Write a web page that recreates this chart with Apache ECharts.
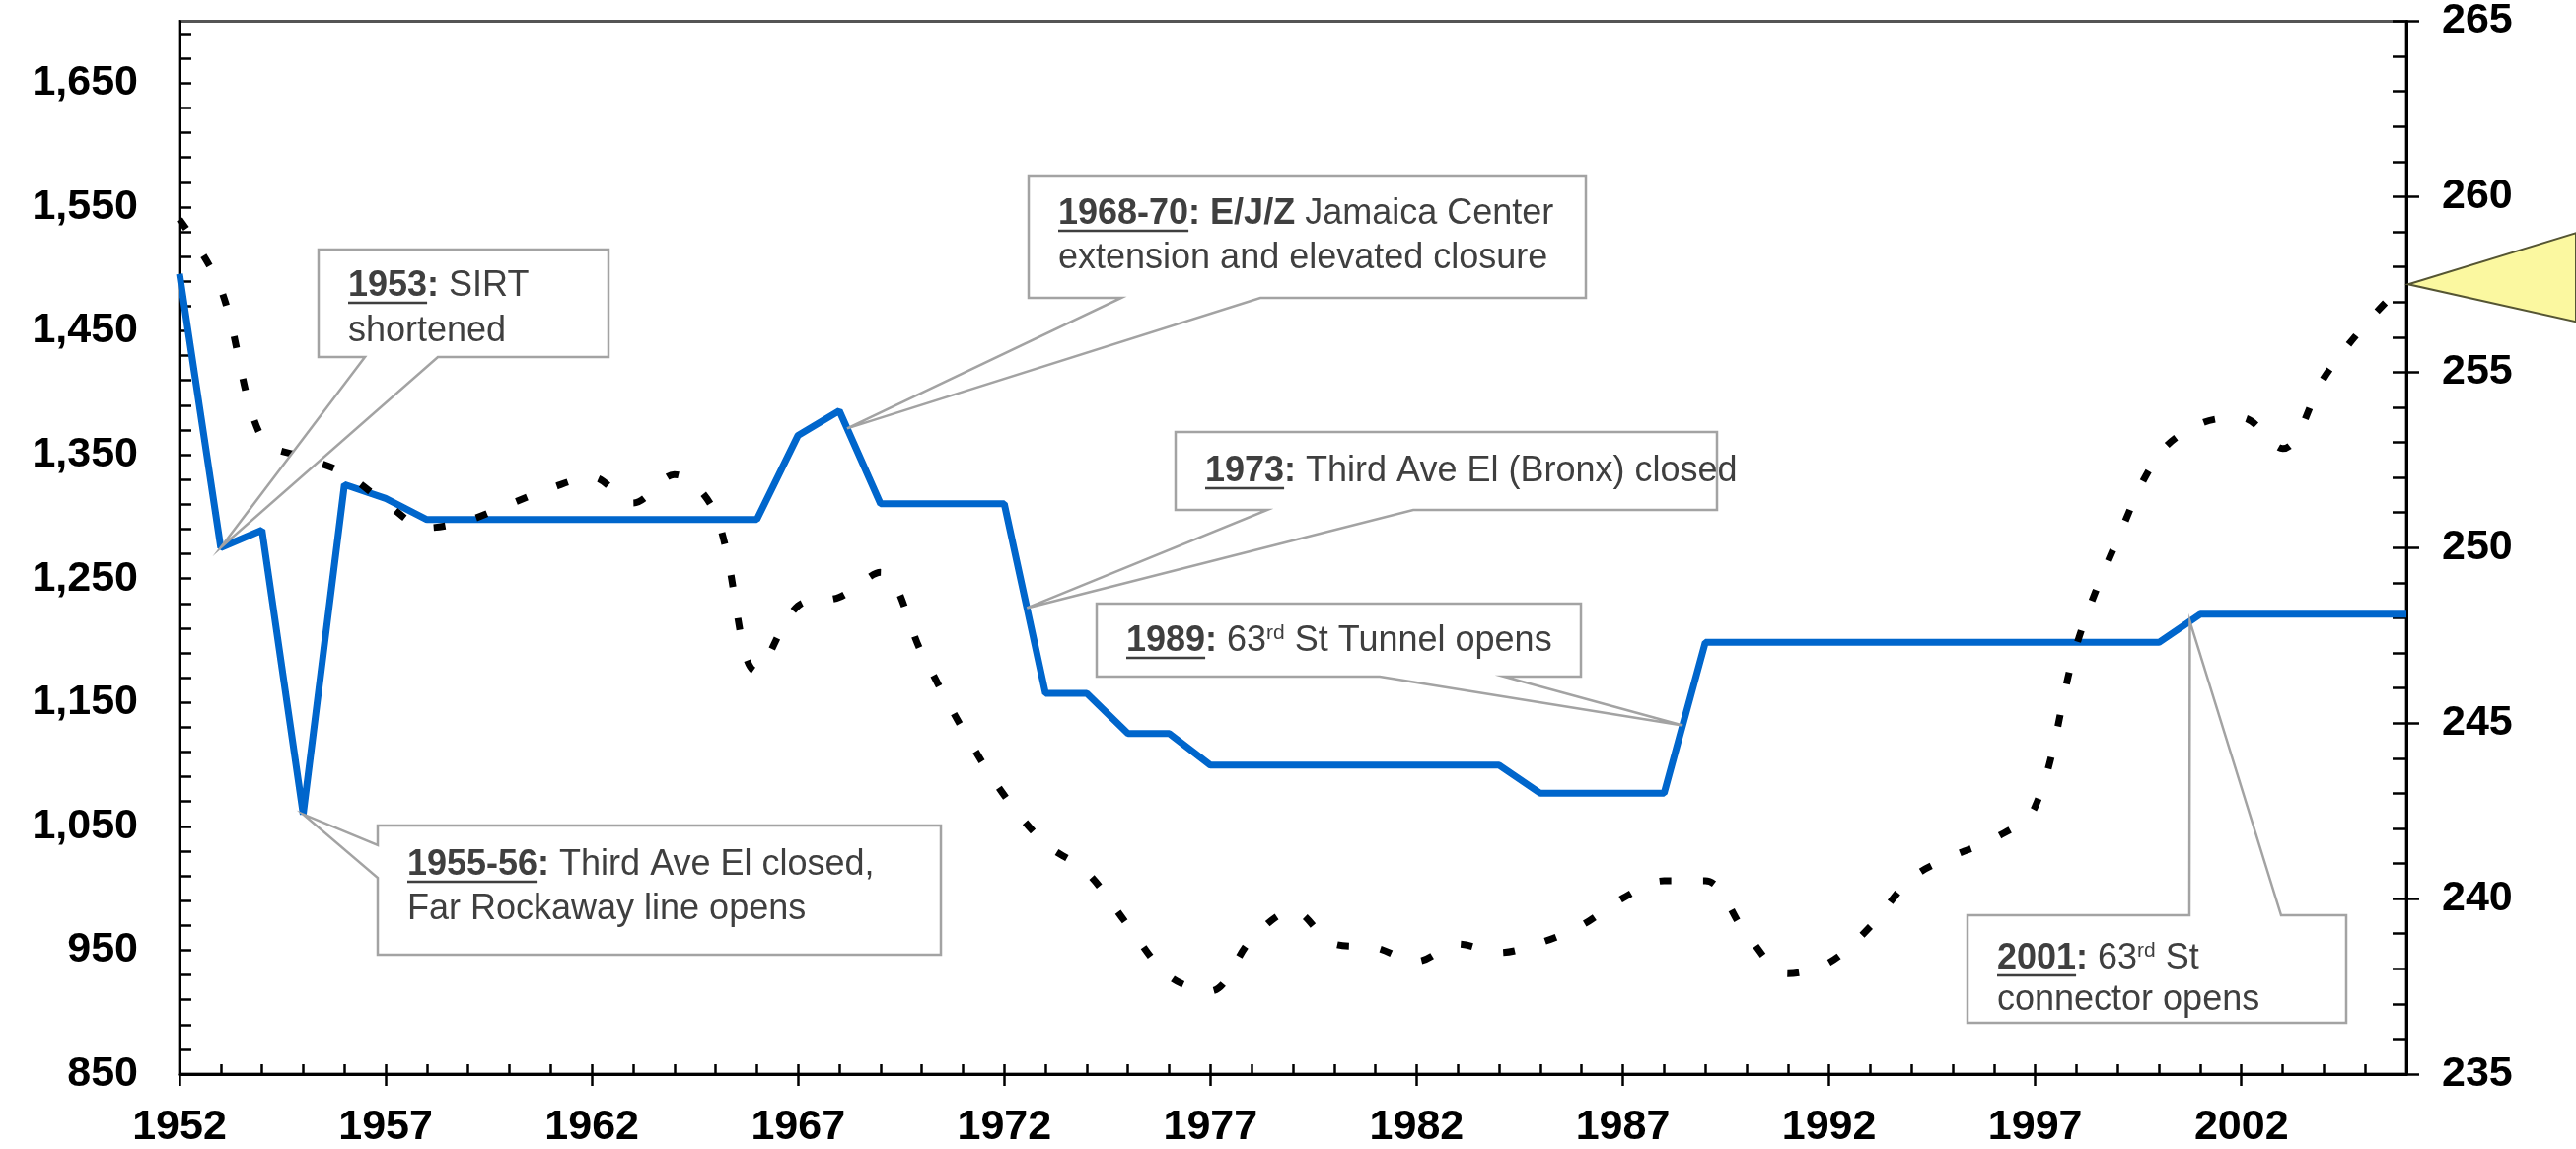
<!DOCTYPE html>
<html>
<head>
<meta charset="utf-8">
<title>Subway ridership and route miles</title>
<script src="https://cdn.jsdelivr.net/npm/echarts@6/dist/echarts.min.js"></script>
<style>
  html, body { margin: 0; padding: 0; background: #fff; }
  #chart { width: 2612px; height: 1165px; }
</style>
</head>
<body>
<div id="chart"></div>
<script>
// years on the x axis
const years = [1952, 1953, 1954, 1955, 1956, 1957, 1958, 1959, 1960, 1961,
  1962, 1963, 1964, 1965, 1966, 1967, 1968, 1969, 1970, 1971,
  1972, 1973, 1974, 1975, 1976, 1977, 1978, 1979, 1980, 1981,
  1982, 1983, 1984, 1985, 1986, 1987, 1988, 1989, 1990, 1991,
  1992, 1993, 1994, 1995, 1996, 1997, 1998, 1999, 2000, 2001,
  2002, 2003, 2004, 2005, 2006]

// blue line, right axis
const routeMiles = [257.8, 250.0, 250.5, 242.4, 251.8, 251.4, 250.8, 250.8, 250.8, 250.8,
  250.8, 250.8, 250.8, 250.8, 250.8, 253.2, 253.9, 251.25, 251.25, 251.25,
  251.25, 245.85, 245.85, 244.7, 244.7, 243.8, 243.8, 243.8, 243.8, 243.8,
  243.8, 243.8, 243.8, 243.0, 243.0, 243.0, 243.0, 247.3, 247.3, 247.3,
  247.3, 247.3, 247.3, 247.3, 247.3, 247.3, 247.3, 247.3, 247.3, 248.1,
  248.1, 248.1, 248.1, 248.1, 248.1]

// black dotted line, left axis
const ridership = [1540, 1484, 1363, 1348, 1335, 1311, 1291, 1297, 1310, 1323,
  1332, 1311, 1334, 1302, 1175, 1228, 1235, 1255, 1190, 1128,
  1075, 1036, 1013, 970, 929, 917, 959, 982, 955, 952,
  941, 955, 948, 956, 970, 992, 1006, 1006, 963, 931,
  940, 969, 1008, 1026, 1040, 1066, 1196, 1282, 1350, 1375,
  1380, 1355, 1412, 1455, 1490]

// tick labels
const xLabels = [1952, 1957, 1962, 1967, 1972, 1977, 1982, 1987, 1992, 1997, 2002]
const leftLabels = [850, 950, 1050, 1150, 1250, 1350, 1450, 1550, 1650]
const rightLabels = [235, 240, 245, 250, 255, 260, 265]

const axisFont = {
  fontFamily: 'Liberation Sans',
  fontWeight: 'bold',
  fontSize: 43,
  color: '#000'
}
const textFont = 'Liberation Sans'
const textColor = '#3f3f3f'

const chart = echarts.init(document.getElementById('chart'))

chart.setOption({
  animation: false,
  backgroundColor: '#fff',
  grid: {
    left: 182,
    right: 172,
    top: 20,
    bottom: 73,
    show: true,
    borderColor: '#555',
    borderWidth: 3
  },
  xAxis: [
    {
      type: 'category',
      data: years,
      boundaryGap: false,
      position: 'bottom',
      axisLine: { lineStyle: { color: '#000', width: 3 } },
      axisTick: { interval: 0, inside: true, length: 10, lineStyle: { color: '#000', width: 2.5 } },
      axisLabel: Object.assign({
        interval: (i, v) => xLabels.includes(Number(v)),
        margin: 33
      }, axisFont),
      splitLine: { show: false }
    },
    // major ticks under the axis
    {
      type: 'category',
      data: years,
      boundaryGap: false,
      position: 'bottom',
      axisLine: { show: false },
      axisTick: {
        interval: (i, v) => xLabels.includes(Number(v)),
        inside: false,
        length: 12,
        lineStyle: { color: '#000', width: 2.5 }
      },
      axisLabel: { show: false },
      splitLine: { show: false }
    }
  ],
  yAxis: [
    {
      type: 'value',
      position: 'left',
      min: 850,
      max: 1700,
      interval: 20,
      axisLine: { show: true, lineStyle: { color: '#000', width: 3 } },
      axisTick: { show: true, inside: true, length: 12, lineStyle: { color: '#000', width: 2.5 } },
      axisLabel: Object.assign({
        margin: 42,
        showMaxLabel: false,
        formatter: v => leftLabels.includes(v) ? v.toLocaleString('en-US') : ''
      }, axisFont),
      splitLine: { show: false }
    },
    {
      type: 'value',
      position: 'right',
      min: 235,
      max: 265,
      interval: 1,
      axisLine: { show: true, lineStyle: { color: '#000', width: 3 } },
      axisTick: { show: true, inside: true, length: 14, lineStyle: { color: '#000', width: 2.5 } },
      axisLabel: { show: false },
      splitLine: { show: false }
    },
    // major ticks and labels on the right
    {
      type: 'value',
      position: 'right',
      min: 235,
      max: 265,
      interval: 5,
      axisLine: { show: false },
      axisTick: { show: true, inside: false, length: 13, lineStyle: { color: '#000', width: 2.5 } },
      axisLabel: Object.assign({
        margin: 36,
        formatter: v => rightLabels.includes(v) ? String(v) : ''
      }, axisFont),
      splitLine: { show: false }
    }
  ],
  series: [
    {
      name: 'Route miles',
      type: 'line',
      xAxisIndex: 0,
      yAxisIndex: 1,
      data: routeMiles,
      symbol: 'none',
      lineStyle: { color: '#0066CC', width: 7 },
      z: 3
    },
    {
      name: 'Ridership',
      type: 'line',
      xAxisIndex: 0,
      yAxisIndex: 0,
      data: ridership,
      symbol: 'none',
      smooth: 0.35,
      lineStyle: { color: '#000', width: 7, type: [12, 32], cap: 'butt' },
      z: 4
    }
  ]
})

// point on the blue line, idx + fraction to the next year
function onBlue (idx, frac) {
  const a = chart.convertToPixel({ seriesIndex: 0 }, [idx, routeMiles[idx]])
  if (!frac) return a
  const b = chart.convertToPixel({ seriesIndex: 0 }, [idx + 1, routeMiles[idx + 1]])
  return [a[0] + (b[0] - a[0]) * frac, a[1] + (b[1] - a[1]) * frac]
}

// callout boxes: box = [x0, y0, x1, y1], wedge on one side
const notes = [
  { box: [323, 253, 617, 362], side: 'bottom', base: [370, 444], at: [1, 0],
    lines: [{ y: 290, t: '{y|1953}{b|:} SIRT', year: '1953' }, { y: 336, t: 'shortened' }] },
  { box: [383, 837, 954, 968], side: 'left', base: [857, 890], at: [3, 0],
    lines: [{ y: 877, t: '{y|1955-56}{b|:} Third Ave El closed,', year: '1955-56' }, { y: 922, t: 'Far Rockaway line opens' }] },
  { box: [1043, 178, 1608, 302], side: 'bottom', base: [1137, 1278], at: [16, 0.19],
    lines: [{ y: 217, t: '{y|1968-70}{b|: E/J/Z} Jamaica Center', year: '1968-70' }, { y: 262, t: 'extension and elevated closure' }] },
  { box: [1192, 438, 1741, 517], side: 'bottom', base: [1285, 1433], at: [20, 0.55],
    lines: [{ y: 478, t: '{y|1973}{b|:} Third Ave El (Bronx) closed', year: '1973' }] },
  { box: [1112, 612, 1603, 686], side: 'bottom', base: [1399, 1525], at: [36, 0.45],
    lines: [{ y: 650, t: '{y|1989}{b|:} 63{s|rd} St Tunnel opens', year: '1989' }] },
  { box: [1995, 928, 2379, 1037], side: 'top', base: [2220, 2313], at: [48, 0.75],
    lines: [{ y: 972, t: '{y|2001}{b|:} 63{s|rd} St', year: '2001' }, { y: 1014, t: 'connector opens' }] }
]

const measure = document.createElement('canvas').getContext('2d')
measure.font = 'bold 36px "Liberation Sans"'

const shapes = []
notes.forEach(n => {
  const [x0, y0, x1, y1] = n.box
  const tip = onBlue(n.at[0], n.at[1])
  let pts
  if (n.side === 'bottom') {
    pts = [[x0, y0], [x1, y0], [x1, y1], [n.base[1], y1], tip, [n.base[0], y1], [x0, y1]]
  } else if (n.side === 'left') {
    pts = [[x0, y0], [x1, y0], [x1, y1], [x0, y1], [x0, n.base[1]], tip, [x0, n.base[0]]]
  } else {
    pts = [[x0, y0], [n.base[0], y0], tip, [n.base[1], y0], [x1, y0], [x1, y1], [x0, y1]]
  }
  shapes.push({
    type: 'polygon',
    z: 100,
    shape: { points: pts },
    style: { fill: '#fff', stroke: '#a3a3a3', lineWidth: 2.5 }
  })
  const tx = x0 + 30
  n.lines.forEach(l => {
    shapes.push({
      type: 'text',
      z: 101,
      style: {
        x: tx,
        y: l.y,
        text: l.t,
        align: 'left',
        verticalAlign: 'middle',
        fontFamily: textFont,
        fontSize: 36,
        fill: textColor,
        rich: {
          y: { fontFamily: textFont, fontSize: 36, fontWeight: 'bold', fill: textColor },
          b: { fontFamily: textFont, fontSize: 36, fontWeight: 'bold', fill: textColor },
          s: { fontFamily: textFont, fontSize: 21, fill: textColor, verticalAlign: 'top' }
        }
      }
    })
    if (l.year) {
      const w = measure.measureText(l.year).width
      shapes.push({
        type: 'line',
        z: 101,
        shape: { x1: tx, y1: l.y + 17, x2: tx + w, y2: l.y + 17 },
        style: { stroke: textColor, lineWidth: 2.5 }
      })
    }
  })
})

// yellow pointer at the right edge, aimed at the last ridership point
const end = chart.convertToPixel({ seriesIndex: 1 }, [years.length - 1, ridership[ridership.length - 1]])
shapes.push({
  type: 'polygon',
  z: 90,
  shape: { points: [[end[0] + 2, end[1] + 3], [2612, end[1] - 49], [2612, end[1] + 41]] },
  style: { fill: '#FBF8A0', stroke: '#555533', lineWidth: 2 }
})

chart.setOption({ graphic: { elements: shapes } })
</script>
</body>
</html>
